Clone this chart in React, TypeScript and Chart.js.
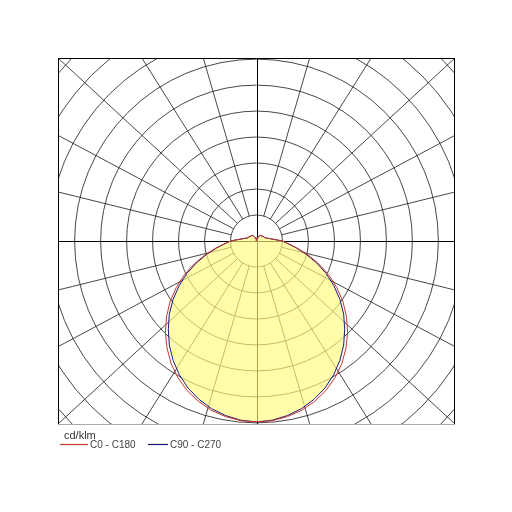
import { useEffect, useRef } from "react";
import { Chart, registerables } from "chart.js";

Chart.register(...registerables);

// Photometric data (gamma angle in degrees, luminous intensity in cd/klm)
const gammaAngles = [
  0, 5, 10, 15, 20, 25, 30, 35, 40, 45, 50, 55, 60, 65, 70, 75, 80, 85, 90,
  95, 100, 105, 110, 115, 120, 125, 130, 135, 140, 145, 150, 155, 160, 165, 170, 175, 180,
];
const c0c180Values = [
  348, 347, 343, 337, 328, 317, 303, 287, 268, 248, 226, 203, 178, 153, 127, 102, 80, 62, 50,
  35, 27, 21, 18, 17, 16, 15, 15, 14, 14, 13, 11, 9, 7, 5, 3, 2, 0,
];
const c90c270Values = [
  348, 346, 341, 334, 324, 312, 297, 280, 261, 240, 219, 196, 172, 148, 123, 99, 78, 61, 50,
  34, 26, 21, 18, 17, 16, 15, 15, 14, 14, 13, 11, 9, 7, 5, 3, 2, 0,
];
const unitLabel = "cd/klm";
const seriesLabels = ["C0 - C180", "C90 - C270"];
const seriesColors = ["rgb(200,55,45)", "rgb(25,25,125)"];
const ringStep = 50; // cd/klm per grid circle
const ringCount = 11;
const spokeStepDeg = 15;

function polarPoints(values: number[]) {
  const pts: { x: number; y: number }[] = [];
  for (let i = gammaAngles.length - 1; i >= 0; i--) {
    const g = (gammaAngles[i] * Math.PI) / 180;
    pts.push({ x: -values[i] * Math.sin(g), y: -values[i] * Math.cos(g) });
  }
  for (let i = 1; i < gammaAngles.length; i++) {
    const g = (gammaAngles[i] * Math.PI) / 180;
    pts.push({ x: values[i] * Math.sin(g), y: -values[i] * Math.cos(g) });
  }
  return pts;
}

const polarGridPlugin = {
  id: "polarGrid",
  beforeDatasetsDraw(chart: any) {
    const { ctx, chartArea: a, scales } = chart;
    const xs = scales.x;
    const ys = scales.y;
    const cx = xs.getPixelForValue(0);
    const cy = ys.getPixelForValue(0);
    const step = xs.getPixelForValue(ringStep) - cx;
    const halfW = a.right - cx;
    const halfH = cy - a.top;
    ctx.save();
    ctx.beginPath();
    ctx.rect(a.left, a.top, a.right - a.left, a.bottom - a.top);
    ctx.clip();
    ctx.lineWidth = 1;
    ctx.strokeStyle = "rgba(40,40,40,0.85)";
    for (let k = 1; k <= ringCount; k++) {
      ctx.beginPath();
      ctx.arc(cx, cy, step * k, 0, Math.PI * 2);
      ctx.stroke();
    }
    // spokes
    for (let deg = 0; deg < 360; deg += spokeStepDeg) {
      if (deg % 90 === 0) continue;
      const phi = (deg * Math.PI) / 180;
      const c = Math.cos(phi);
      const s = Math.sin(phi);
      const m = Math.max(Math.abs(c), Math.abs(s));
      const ex = cx + (c / m) * halfW;
      const ey = cy - (s / m) * halfH;
      const len = Math.hypot(ex - cx, ey - cy);
      const sx = cx + ((ex - cx) / len) * step;
      const sy = cy + ((ey - cy) / len) * step;
      ctx.beginPath();
      ctx.moveTo(sx, sy);
      ctx.lineTo(ex, ey);
      ctx.stroke();
    }
    // axes
    ctx.strokeStyle = "#000";
    ctx.beginPath();
    ctx.moveTo(a.left, Math.round(cy) + 0.5);
    ctx.lineTo(a.right, Math.round(cy) + 0.5);
    ctx.moveTo(Math.round(cx) + 0.5, a.top);
    ctx.lineTo(Math.round(cx) + 0.5, a.bottom);
    ctx.stroke();
    // translucent fill of the distribution
    const meta = chart.getDatasetMeta(1);
    if (meta && meta.data.length) {
      ctx.beginPath();
      meta.data.forEach((p: any, i: number) => {
        if (i === 0) ctx.moveTo(p.x, p.y);
        else ctx.lineTo(p.x, p.y);
      });
      ctx.closePath();
      ctx.fillStyle = "rgba(255,252,124,0.66)";
      ctx.fill();
    }
    ctx.restore();
  },
  afterDraw(chart: any) {
    const { ctx, chartArea: a } = chart;
    ctx.save();
    ctx.lineWidth = 1;
    ctx.strokeStyle = "#000";
    ctx.beginPath();
    ctx.moveTo(a.left + 0.5, a.bottom);
    ctx.lineTo(a.left + 0.5, a.top + 0.5);
    ctx.lineTo(a.right - 0.5, a.top + 0.5);
    ctx.lineTo(a.right - 0.5, a.bottom);
    ctx.stroke();
    ctx.strokeStyle = "#aaa";
    ctx.beginPath();
    ctx.moveTo(a.left, a.bottom + 0.5);
    ctx.lineTo(a.right, a.bottom + 0.5);
    ctx.stroke();
    // legend
    ctx.textBaseline = "middle";
    ctx.font = "11px 'Liberation Sans', Arial, sans-serif";
    ctx.fillStyle = "#333";
    ctx.fillText(unitLabel, a.left + 6, a.bottom + 12);
    ctx.font = "10px 'Liberation Sans', Arial, sans-serif";
    const lineY = Math.round(a.bottom + 20) + 0.5;
    const starts = [a.left + 2, a.left + 90];
    const lens = [28, 20];
    seriesLabels.forEach((label, i) => {
      const x0 = starts[i];
      ctx.strokeStyle = seriesColors[i];
      ctx.lineWidth = 1.2;
      ctx.beginPath();
      ctx.moveTo(x0, lineY);
      ctx.lineTo(x0 + lens[i], lineY);
      ctx.stroke();
      ctx.fillStyle = "#444";
      ctx.fillText(label, x0 + lens[i] + 2, lineY + 0.5);
    });
    ctx.restore();
  },
};

export default function App() {
  const ref = useRef<HTMLCanvasElement | null>(null);
  useEffect(() => {
    if (!ref.current) return;
    const chart = new Chart(ref.current, {
      type: "scatter",
      data: {
        datasets: [
          {
            label: seriesLabels[0],
            data: polarPoints(c0c180Values),
            borderColor: seriesColors[0],
            borderWidth: 1,
            showLine: true,
            pointRadius: 0,
            fill: false,
          },
          {
            label: seriesLabels[1],
            data: polarPoints(c90c270Values),
            borderColor: seriesColors[1],
            borderWidth: 1,
            showLine: true,
            pointRadius: 0,
            fill: false,
          },
        ],
      },
      options: {
        responsive: false,
        animation: false,
        devicePixelRatio: 1,
        layout: { padding: { left: 58, top: 58, right: 57, bottom: 88 } },
        scales: {
          x: { type: "linear", min: -382, max: 382, display: false },
          y: { type: "linear", min: -352, max: 352, display: false },
        },
        plugins: { legend: { display: false }, tooltip: { enabled: false } },
      },
      plugins: [polarGridPlugin],
    });
    return () => chart.destroy();
  }, []);
  return (
    <div style={{ position: "absolute", left: 0, top: 0, width: 512, height: 512, background: "#fff" }}>
      <canvas ref={ref} width={512} height={512} />
    </div>
  );
}
